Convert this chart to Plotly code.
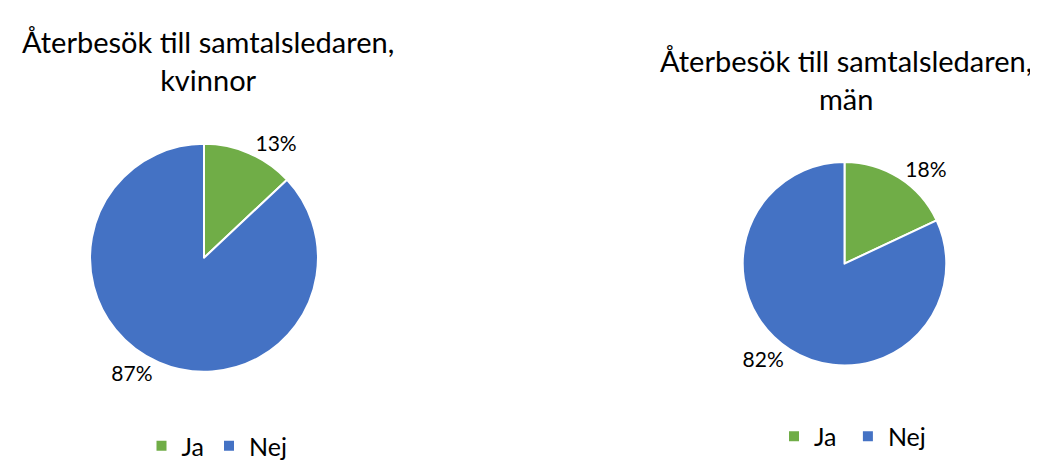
import plotly.graph_objects as go

categories = ["Ja", "Nej"]
women_values = [13, 87]
men_values = [18, 82]
titles = ["Återbesök till samtalsledaren,<br>kvinnor", "Återbesök till samtalsledaren,<br>män"]
colors = ["#70AD47", "#4472C4"]

W, H = 1038, 461
FONT = "Lato, Carlito, Calibri, sans-serif"

def dom(cx, cy, r):
    return dict(x=[(cx - r) / W, (cx + r) / W], y=[(H - cy - r) / H, (H - cy + r) / H])

# second pie uses distinct label keys (trailing space) so it gets its own legend entries
men_labels = [c + " " for c in categories]

fig = go.Figure()
fig.add_trace(go.Pie(
    labels=categories, values=women_values, sort=False, direction="clockwise", rotation=0,
    marker=dict(colors=colors, line=dict(color="white", width=2)),
    texttemplate="%{percent:.0%}", textposition="outside",
    textfont=dict(size=21, color="#000000", family=FONT),
    domain=dom(196, 256.5, 117), legend="legend", hoverinfo="label+percent",
))
fig.add_trace(go.Pie(
    labels=men_labels, values=men_values, sort=False, direction="clockwise", rotation=0,
    marker=dict(colors=colors, line=dict(color="white", width=2)),
    texttemplate="%{percent:.0%}", textposition="outside",
    textfont=dict(size=21, color="#000000", family=FONT),
    domain=dom(836.5, 262.5, 104.5), legend="legend2", hoverinfo="label+percent",
))

legend_common = dict(orientation="h", xanchor="center", yanchor="middle",
                     font=dict(size=25, color="#000000", family=FONT),
                     bgcolor="rgba(0,0,0,0)", itemclick=False, itemdoubleclick=False,
                     itemwidth=30, traceorder="normal")
fig.update_layout(
    width=W, height=H,
    margin=dict(l=0, r=0, t=0, b=0),
    paper_bgcolor="white", plot_bgcolor="white",
    showlegend=True,
    legend=dict(x=209 / W, y=1 - 450 / H, **legend_common),
    legend2=dict(x=848 / W, y=1 - 440 / H, **legend_common),
    annotations=[
        dict(text=titles[0], x=200 / W, y=1 - 53.5 / H, xref="paper", yref="paper",
             showarrow=False, xanchor="center", yanchor="middle",
             font=dict(size=29, color="#000000", family=FONT)),
        dict(text=titles[1], x=838 / W, y=1 - 73.5 / H, xref="paper", yref="paper",
             showarrow=False, xanchor="center", yanchor="middle",
             font=dict(size=29, color="#000000", family=FONT)),
    ],
)

fig.write_html("out.html")
